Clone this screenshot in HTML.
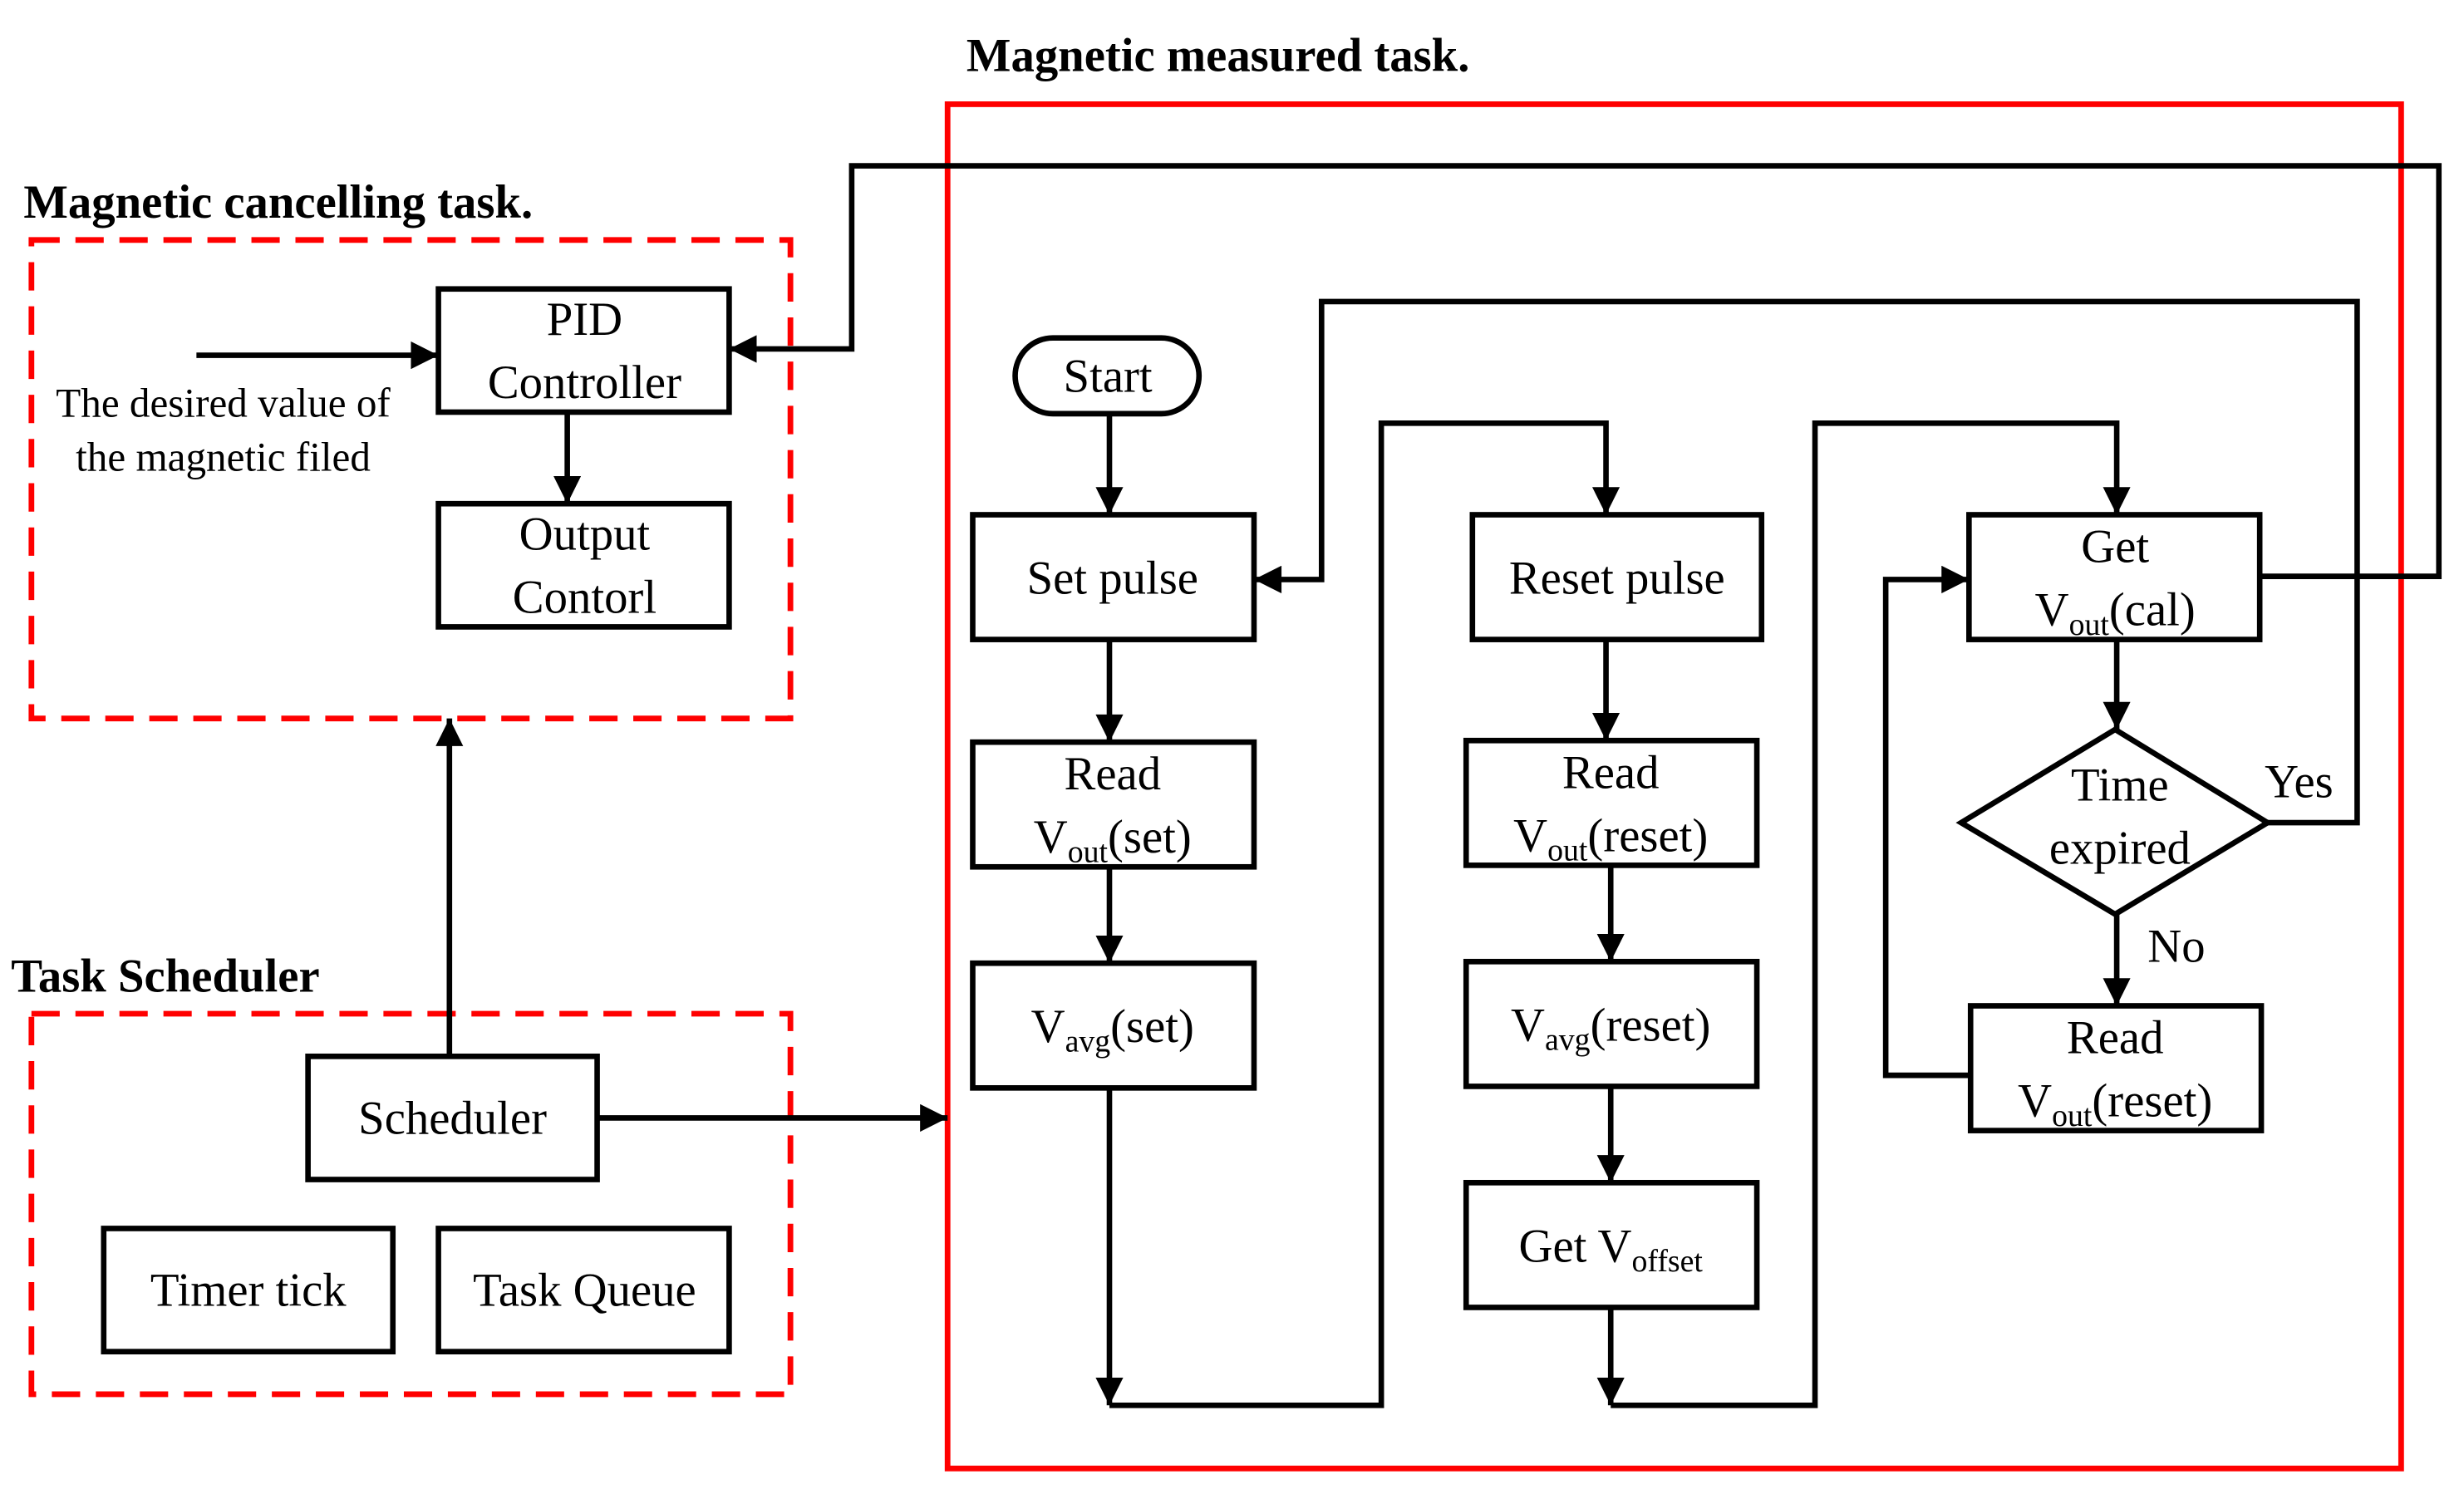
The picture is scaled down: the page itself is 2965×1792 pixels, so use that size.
<!DOCTYPE html>
<html><head><meta charset="utf-8"><style>html,body{margin:0;padding:0;background:#fff}svg{display:block}</style></head><body>
<svg width="2965" height="1792" viewBox="0 0 1568 943" preserveAspectRatio="none" xmlns="http://www.w3.org/2000/svg" font-family="Liberation Serif, serif">
<defs>
<marker id="a" viewBox="0 0 10 10" refX="10" refY="5" markerWidth="6" markerHeight="5" markerUnits="strokeWidth" orient="auto"><path d="M0,0 L10,5 L0,10 z" fill="#000"/></marker>
</defs>
<text x="615" y="45" font-size="30" font-weight="bold">Magnetic measured task.</text>
<text x="15" y="138" font-size="30" font-weight="bold">Magnetic cancelling task.</text>
<text x="7" y="628" font-size="30" font-weight="bold">Task Scheduler</text>
<rect x="603" y="66" width="925" height="864" fill="none" stroke="#f00" stroke-width="3.6"/>
<rect x="20" y="152" width="483" height="303" fill="none" stroke="#f00" stroke-width="3.6" stroke-dasharray="18,10"/>
<rect x="20" y="642" width="483" height="241" fill="none" stroke="#f00" stroke-width="3.6" stroke-dasharray="18,10"/>
<g fill="none" stroke="#000" stroke-width="3.5">
<rect x="279" y="183" width="185" height="78"/>
<rect x="279" y="319" width="185" height="78"/>
<rect x="196" y="669" width="184" height="78"/>
<rect x="66" y="778" width="184" height="78"/>
<rect x="279" y="778" width="185" height="78"/>
<rect x="646" y="214" width="117" height="48" rx="24"/>
<rect x="619" y="326" width="179" height="79"/>
<rect x="619" y="470" width="179" height="79"/>
<rect x="619" y="610" width="179" height="79"/>
<rect x="937" y="326" width="184" height="79"/>
<rect x="933" y="469" width="185" height="79"/>
<rect x="933" y="609" width="185" height="79"/>
<rect x="933" y="749" width="185" height="79"/>
<rect x="1253" y="326" width="185" height="79"/>
<rect x="1254" y="637" width="185" height="79"/>
<path d="M1346,462 L1443,521 L1346,579 L1248,521 Z"/>
</g>
<g fill="none" stroke="#000" stroke-width="3.5" marker-end="url(#a)">
<path d="M125,225 H279"/>
<path d="M361,261 V319"/>
<path d="M286,669 V455"/>
<path d="M380,708 H603"/>
<path d="M706,262 V326"/>
<path d="M706,405 V470"/>
<path d="M706,549 V610"/>
<path d="M706,689 V890"/>
<path d="M706,890 H879 V268 H1022 V326"/>
<path d="M1022,405 V469"/>
<path d="M1025,548 V609"/>
<path d="M1025,688 V749"/>
<path d="M1025,828 V890"/>
<path d="M1025,890 H1155 V268 H1347 V326"/>
<path d="M1347,405 V462"/>
<path d="M1443,521 H1500 V191 H841 V367 H798"/>
<path d="M1347,579 V637"/>
<path d="M1254,681 H1200 V367 H1253"/>
<path d="M1438,365 H1552 V105 H542 V221 H464"/>
</g>
<g font-size="30" text-anchor="middle" fill="#000">
<text x="372" y="212">PID</text>
<text x="372" y="252">Controller</text>
<text x="372" y="348">Output</text>
<text x="372" y="388">Contorl</text>
<text x="288" y="718">Scheduler</text>
<text x="158" y="827">Timer tick</text>
<text x="372" y="827">Task Queue</text>
<text x="705" y="248">Start</text>
<text x="708" y="376">Set pulse</text>
<text x="708" y="500">Read</text>
<text x="708" y="540">V<tspan font-size="20" dy="6">out</tspan><tspan dy="-6">(set)</tspan></text>
<text x="708" y="660">V<tspan font-size="20" dy="6">avg</tspan><tspan dy="-6">(set)</tspan></text>
<text x="1029" y="376">Reset pulse</text>
<text x="1025" y="499">Read</text>
<text x="1025" y="539">V<tspan font-size="20" dy="6">out</tspan><tspan dy="-6">(reset)</tspan></text>
<text x="1025" y="659">V<tspan font-size="20" dy="6">avg</tspan><tspan dy="-6">(reset)</tspan></text>
<text x="1025" y="799">Get  V<tspan font-size="20" dy="6">offset</tspan></text>
<text x="1346" y="356">Get</text>
<text x="1346" y="396">V<tspan font-size="20" dy="6">out</tspan><tspan dy="-6">(cal)</tspan></text>
<text x="1349" y="507">Time</text>
<text x="1349" y="547">expired</text>
<text x="1346" y="667">Read</text>
<text x="1346" y="707">V<tspan font-size="20" dy="6">out</tspan><tspan dy="-6">(reset)</tspan></text>
<text x="1463" y="505">Yes</text>
<text x="1385" y="609">No</text>
<text x="142" y="264" font-size="26">The desired value of</text>
<text x="142" y="298" font-size="26">the magnetic filed</text>
</g>
</svg>
</body></html>
